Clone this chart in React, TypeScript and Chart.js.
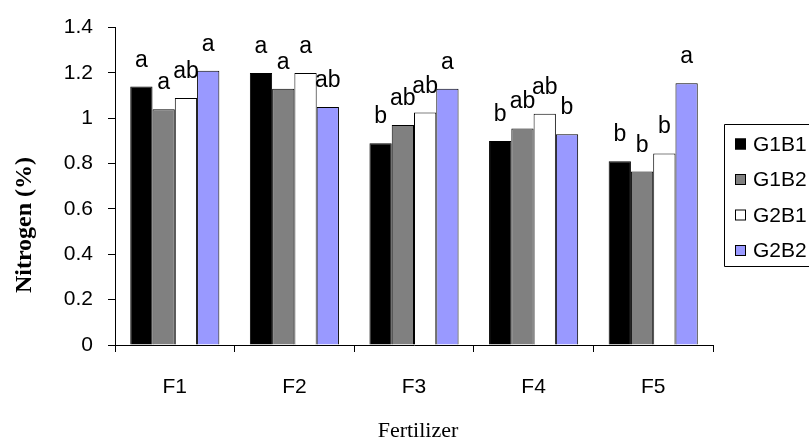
import React, { useEffect, useRef } from 'react';
import { Chart, registerables } from 'chart.js';

Chart.register(...registerables);

// ---- data ----
const categories = ['F1', 'F2', 'F3', 'F4', 'F5'];
const seriesNames = ['G1B1', 'G1B2', 'G2B1', 'G2B2'];
const g1b1 = [1.14, 1.2, 0.89, 0.9, 0.81];
const g1b2 = [1.04, 1.13, 0.97, 0.955, 0.765];
const g2b1 = [1.09, 1.2, 1.025, 1.02, 0.845];
const g2b2 = [1.21, 1.05, 1.13, 0.93, 1.155];
const g1b1Letters = ['a', 'a', 'b', 'b', 'b'];
const g1b2Letters = ['a', 'a', 'ab', 'ab', 'b'];
const g2b1Letters = ['ab', 'a', 'ab', 'ab', 'b'];
const g2b2Letters = ['a', 'ab', 'a', 'b', 'a'];
const yTickLabels = ['0', '0.2', '0.4', '0.6', '0.8', '1', '1.2', '1.4'];
const xTitle = 'Fertilizer';
const yTitle = 'Nitrogen (%)';
const seriesColors = ['#000000', '#808080', '#FFFFFF', '#9999FF'];

const seriesValues = [g1b1, g1b2, g2b1, g2b2];
const seriesLetters = [g1b1Letters, g1b2Letters, g2b1Letters, g2b2Letters];

const SANS = '"Liberation Sans", Arial, sans-serif';
const SERIF = '"Liberation Serif", "Times New Roman", serif';

const decorPlugin = {
  id: 'decor',
  afterDatasetsDraw(chart: any) {
    const ctx = chart.ctx;
    ctx.save();
    // significance letters
    ctx.font = `23px ${SANS}`;
    ctx.fillStyle = '#000';
    ctx.textAlign = 'center';
    ctx.textBaseline = 'alphabetic';
    chart.data.datasets.forEach((ds: any, di: number) => {
      const meta = chart.getDatasetMeta(di);
      meta.data.forEach((el: any, i: number) => {
        const txt = ds.letters[i];
        if (txt) ctx.fillText(txt, el.x, el.y - 20);
      });
    });
    ctx.restore();
  },
  afterDraw(chart: any) {
    const ctx = chart.ctx;
    const area = chart.chartArea;
    ctx.save();
    // y title
    ctx.font = `bold 24px ${SERIF}`;
    ctx.fillStyle = '#000';
    ctx.textAlign = 'center';
    ctx.textBaseline = 'alphabetic';
    ctx.translate(31, 225);
    ctx.rotate(-Math.PI / 2);
    ctx.fillText(yTitle, 0, 0);
    ctx.restore();

    ctx.save();
    // x title
    ctx.font = `22px ${SERIF}`;
    ctx.fillStyle = '#000';
    ctx.textAlign = 'center';
    ctx.textBaseline = 'alphabetic';
    ctx.fillText(xTitle, (area.left + area.right) / 2 + 4, 437);
    ctx.restore();

    // legend
    ctx.save();
    const boxL = 724.5;
    const boxT = 124.5;
    const boxB = 266.5;
    ctx.strokeStyle = '#000';
    ctx.lineWidth = 1;
    ctx.beginPath();
    ctx.moveTo(820, boxT);
    ctx.lineTo(boxL, boxT);
    ctx.lineTo(boxL, boxB);
    ctx.lineTo(820, boxB);
    ctx.stroke();
    ctx.font = `21px ${SANS}`;
    ctx.textAlign = 'left';
    ctx.textBaseline = 'middle';
    chart.data.datasets.forEach((ds: any, i: number) => {
      const cy = 144 + i * 35.5;
      ctx.fillStyle = ds.backgroundColor;
      ctx.fillRect(735, cy - 5.5, 11, 11);
      ctx.strokeStyle = '#000';
      ctx.strokeRect(735.5, cy - 5, 10, 10);
      ctx.fillStyle = '#000';
      ctx.fillText(ds.label, 753, cy + 1);
    });
    ctx.restore();
  },
};

export default function App() {
  const ref = useRef<HTMLCanvasElement | null>(null);
  useEffect(() => {
    if (!ref.current) return;
    Chart.defaults.font.family = SANS;
    const chart = new Chart(ref.current, {
      type: 'bar',
      data: {
        labels: categories,
        datasets: seriesNames.map((name, i) => ({
          label: name,
          data: seriesValues[i],
          letters: seriesLetters[i],
          backgroundColor: seriesColors[i],
          borderColor: '#000',
          borderWidth: 1,
          barPercentage: 1,
          categoryPercentage: 0.745,
        })) as any,
      },
      options: {
        responsive: false,
        animation: false,
        devicePixelRatio: 1,
        layout: { padding: { top: 23, right: 96, bottom: 0, left: 0 } },
        plugins: {
          legend: { display: false },
          tooltip: { enabled: false },
          title: { display: false },
        },
        scales: {
          x: {
            type: 'category',
            grid: {
              display: true,
              drawOnChartArea: false,
              drawTicks: true,
              tickLength: 7,
              offset: true,
              color: '#000',
            },
            border: { display: true, color: '#000', width: 1 },
            ticks: { color: '#000', font: { size: 21, family: SANS }, padding: 23, maxRotation: 0 },
            afterFit: (s: any) => {
              s.height = 95;
            },
          },
          y: {
            min: 0,
            max: 1.4,
            ticks: {
              stepSize: 0.2,
              color: '#000',
              font: { size: 21, family: SANS },
              padding: 15,
              callback: (_v: any, i: number) => yTickLabels[i],
            },
            grid: {
              display: true,
              drawOnChartArea: false,
              drawTicks: true,
              tickLength: 7,
              color: '#000',
            },
            border: { display: true, color: '#000', width: 1 },
            afterFit: (s: any) => {
              s.width = 115;
            },
          },
        },
      } as any,
      plugins: [decorPlugin],
    });
    return () => chart.destroy();
  }, []);
  return (
    <div style={{ position: 'fixed', left: 0, top: 0, width: 809, height: 440, background: '#fff' }}>
      <canvas ref={ref} width={809} height={440} style={{ width: 809, height: 440, display: 'block' }} />
    </div>
  );
}
